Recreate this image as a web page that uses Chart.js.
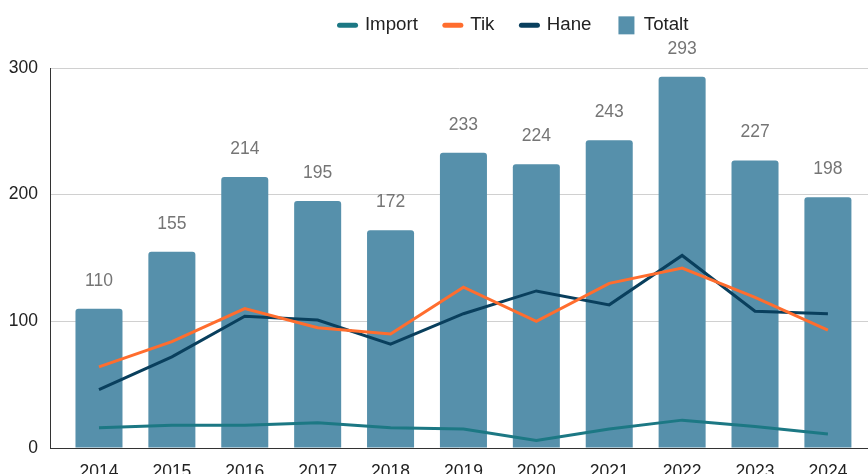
<!DOCTYPE html>
<html>
<head>
<meta charset="utf-8">
<script src="https://cdn.jsdelivr.net/npm/chart.js@4.4.1/dist/chart.umd.min.js"></script>
<style>
    html, body { margin: 0; padding: 0; background: #fff; }
    #wrap { width: 868px; height: 474px; }
</style>
</head>
<body>
<div id="wrap"><canvas id="grafico"></canvas></div>
<script>
const anos = [2014, 2015, 2016, 2017, 2018, 2019, 2020, 2021, 2022, 2023, 2024];
const totalt = [110, 155, 214, 195, 172, 233, 224, 243, 293, 227, 198];
const importAntal = [16, 18, 18, 20, 16, 15, 6, 15, 22, 17, 11];
const tik = [64, 84, 110, 95, 90, 127, 100, 130, 142, 119, 93];
const hane = [46, 72, 104, 101, 82, 106, 124, 113, 152, 108, 106];
const yTicks = [0, 100, 200, 300];

const fonte = "'Liberation Sans', Arial, sans-serif";
const pontos = vals => anos.map((a, i) => ({ x: a, y: vals[i] }));

// etiquetas acima das barras
const rotulosBarras = {
    id: 'rotulosBarras',
    afterDatasetsDraw(chart) {
        const ctx = chart.ctx;
        chart.data.datasets.forEach((ds, i) => {
            if (ds.type !== 'bar') return;
            const meta = chart.getDatasetMeta(i);
            ctx.save();
            ctx.font = '17.5px ' + fonte;
            ctx.fillStyle = '#757575';
            ctx.textAlign = 'center';
            ctx.textBaseline = 'alphabetic';
            meta.data.forEach((bar, j) => {
                ctx.fillText(ds.data[j].y, bar.x, bar.y - 23);
            });
            ctx.restore();
        });
    }
};

// legenda deslocada para a direita, como no original
const ajusteLegenda = {
    id: 'ajusteLegenda',
    afterLayout(chart) {
        if (!chart.legend) return;
        chart.legend.left += 80;
        chart.legend.right += 80;
        chart.legend.top -= 11;
    }
};

const ctx = document.getElementById('grafico');
new Chart(ctx, {
    data: {
        datasets: [
            {
                type: 'line', label: 'Import', data: pontos(importAntal),
                borderColor: '#1c7884', backgroundColor: '#1c7884',
                borderWidth: 3, pointRadius: 0, pointStyle: 'line', order: 1
            },
            {
                type: 'line', label: 'Tik', data: pontos(tik),
                borderColor: '#ff6d2e', backgroundColor: '#ff6d2e',
                borderWidth: 3, pointRadius: 0, pointStyle: 'line', order: 1
            },
            {
                type: 'line', label: 'Hane', data: pontos(hane),
                borderColor: '#093f5d', backgroundColor: '#093f5d',
                borderWidth: 3, pointRadius: 0, pointStyle: 'line', order: 1
            },
            {
                type: 'bar', label: 'Totalt', data: pontos(totalt),
                backgroundColor: '#5690ab', borderWidth: 0,
                borderRadius: { topLeft: 3, topRight: 3 }, borderSkipped: 'start',
                categoryPercentage: 1, barPercentage: 0.645,
                pointStyle: 'rect', order: 2
            }
        ]
    },
    options: {
        responsive: true,
        maintainAspectRatio: false,
        animation: false,
        layout: { padding: 0 },
        plugins: {
            tooltip: { enabled: false },
            legend: {
                position: 'top',
                labels: {
                    usePointStyle: true,
                    pointStyleWidth: 16,
                    boxHeight: 18,
                    padding: 27,
                    color: '#222',
                    font: { family: fonte, size: 18.7 },
                    generateLabels(chart) {
                        const itens = Chart.defaults.plugins.legend.labels.generateLabels(chart);
                        itens.forEach(it => {
                            if (it.pointStyle === 'line') { it.lineWidth = 5; it.lineCap = 'round'; }
                        });
                        return itens;
                    }
                },
                onClick: null
            }
        },
        scales: {
            x: {
                type: 'linear',
                min: 2013.328,
                max: 2024.55,
                offset: false,
                afterFit(scale) { scale.height = 26; },
                grid: { display: false },
                border: { display: true, color: '#333', width: 1 },
                ticks: {
                    stepSize: 1,
                    includeBounds: false,
                    autoSkip: false,
                    maxRotation: 0,
                    padding: 6,
                    color: '#222',
                    font: { family: fonte, size: 17.5 },
                    callback: v => String(v)
                }
            },
            y: {
                min: 0,
                max: 300,
                afterFit(scale) { scale.width = 50; },
                afterBuildTicks(scale) { scale.ticks = yTicks.map(v => ({ value: v })); },
                grid: {
                    drawTicks: false,
                    color: c => c.tick && c.tick.value === 0 ? '#333' : '#d0d0d0'
                },
                border: { display: true, color: '#333', width: 1 },
                ticks: {
                    padding: 12,
                    color: '#222',
                    font: { family: fonte, size: 17.5 }
                }
            }
        }
    },
    plugins: [rotulosBarras, ajusteLegenda, {
        id: 'alturaLegenda',
        beforeInit(chart) {
            const lg = chart.legend;
            if (!lg) return;
            const fitOrig = lg.fit;
            lg.fit = function () { fitOrig.call(this); this.height = 68; };
        }
    }]
});
</script>
</body>
</html>
